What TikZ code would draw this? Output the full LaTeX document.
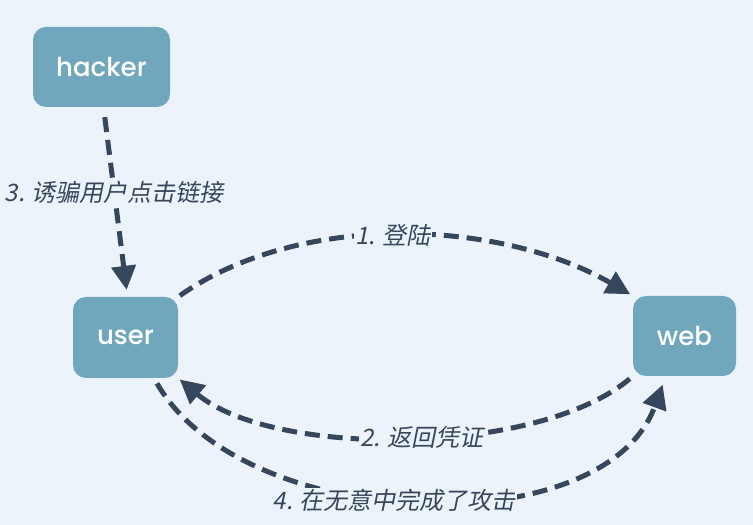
\documentclass[tikz,border=0pt]{standalone}
\usepackage{fontspec}
\setmainfont{Fira Sans}
\newfontfamily\boxfont{Poppins}[UprightFont=* Medium]
\newfontfamily\cjk[FakeSlant=0.2]{Noto Sans CJK SC}
\usetikzlibrary{arrows.meta}
\definecolor{bgblue}{HTML}{EDF3FA}
\definecolor{boxblue}{HTML}{71A7BD}
\definecolor{linkdark}{HTML}{36465D}
\tikzset{
  box/.style={fill=boxblue, rounded corners=13pt, text=white, inner sep=0pt,
    font=\boxfont\fontsize{26}{30}\selectfont},
  link/.style={draw=linkdark, line width=5pt, dash pattern=on 15pt off 8pt,
    -{Triangle[length=24pt,width=24pt]}},
  lbl/.style={fill=bgblue, text=linkdark, inner sep=1pt,
    font=\cjk\fontsize{24}{28}\selectfont},
}
\begin{document}
\begin{tikzpicture}[x=1pt,y=1pt]
%Background
\useasboundingbox (0,0) rectangle (753,525);
\fill[bgblue] (0,0) rectangle (753,525);

%Rounded Rect [hacker]
\node[box, minimum width=137pt, minimum height=80pt] (hacker) at (101.5,458) {hacker};
%Rounded Rect [user]
\node[box, minimum width=105pt, minimum height=81pt] (user) at (125.5,187.5) {user};
%Rounded Rect [web]
\node[box, minimum width=103pt, minimum height=80pt] (web) at (684.5,189) {web};

%Straight Lines [hacker -> user]
\draw[link, shorten <=10pt, shorten >=7pt] ([xshift=2pt]hacker.south) -- node[lbl, pos=0.45] {3. 诱骗用户点击链接} ([xshift=2pt]user.north);
%Curve Lines [user -> web]
\draw[link, shorten <=2pt, shorten >=3pt] (user.north east) to[out=35, in=150, looseness=0.85] node[lbl, pos=0.48] {1. 登陆} (web.north west);
%Curve Lines [web -> user]
\draw[link, shorten <=4pt, shorten >=2pt] (web.south west) to[out=220, in=-40, looseness=0.7] node[lbl, pos=0.47] {2. 返回凭证} (user.south east);
%Curve Lines [user -> web]
\draw[link, shorten <=6pt, shorten >=9pt] (user.-55) to[out=-60, in=-110, looseness=0.9] node[lbl, pos=0.46, yshift=-2pt] {4. 在无意中完成了攻击} (web.-115);

\end{tikzpicture}
\end{document}
